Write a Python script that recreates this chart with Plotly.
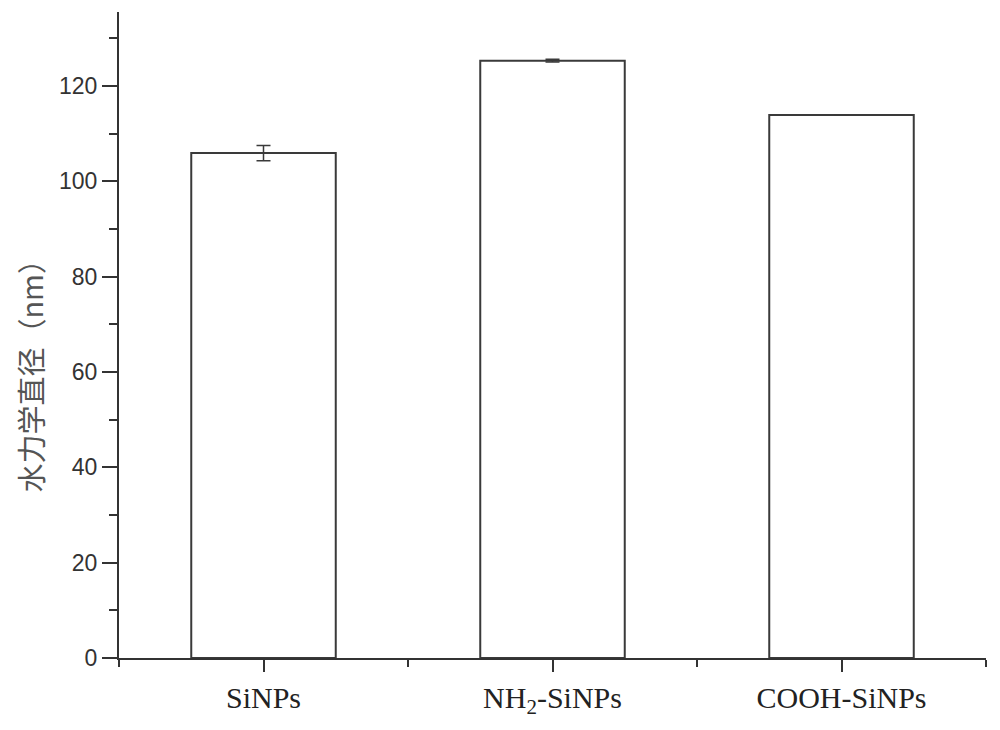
import plotly.graph_objects as go

categories = ["SiNPs", "NH<sub>2</sub>-SiNPs", "COOH-SiNPs"]
diameters = [105.9, 125.3, 113.9]
errors = [1.6, 0.3, 0.0]
y_ticks = [0, 20, 40, 60, 80, 100, 120]
y_minor = [10, 30, 50, 70, 90, 110, 130]
y_title = "水力学直径（nm）"

positions = list(range(len(categories)))

fig = go.Figure()
fig.add_trace(go.Bar(
    x=positions,
    y=diameters,
    width=0.5,
    marker=dict(color="white", line=dict(color="#3a3a3a", width=2)),
    error_y=dict(type="data", array=errors, visible=True,
                 color="#3a3a3a", thickness=1.5, width=7),
    showlegend=False,
))

axis_color = "#333333"
fig.update_layout(
    width=1000, height=730,
    margin=dict(l=111, r=22, t=4, b=80),
    plot_bgcolor="white", paper_bgcolor="white",
    bargap=0.5,
    xaxis=dict(
        range=[-0.5, 2.5],
        tickmode="array", tickvals=positions, ticktext=categories,
        ticks="outside", ticklen=12, tickwidth=2, tickcolor=axis_color,
        showline=True, linecolor=axis_color, linewidth=2,
        showgrid=False, zeroline=False,
        tickfont=dict(family="Liberation Serif", size=30, color="#222222"),
        minor=dict(tickmode="array", tickvals=[-0.5, 0.5, 1.5, 2.5],
                   ticks="outside", ticklen=7, tickwidth=2, tickcolor=axis_color,
                   showgrid=False),
    ),
    yaxis=dict(
        range=[0, 135.5],
        tickmode="array", tickvals=y_ticks,
        ticks="outside", ticklen=15, tickwidth=2, tickcolor=axis_color,
        showline=True, linecolor=axis_color, linewidth=2,
        showgrid=False, zeroline=False,
        tickfont=dict(family="Liberation Sans", size=23, color="#333333"),
        minor=dict(tickmode="array", tickvals=y_minor,
                   ticks="outside", ticklen=8, tickwidth=2, tickcolor=axis_color,
                   showgrid=False),
    ),
    annotations=[dict(
        text=y_title, textangle=-90,
        xref="paper", yref="paper", x=0, y=0.448,
        xanchor="center", yanchor="middle", xshift=-89,
        showarrow=False,
        font=dict(family="Noto Sans CJK SC", size=29, color="#555555"),
    )],
)

fig.write_html("out.html")
